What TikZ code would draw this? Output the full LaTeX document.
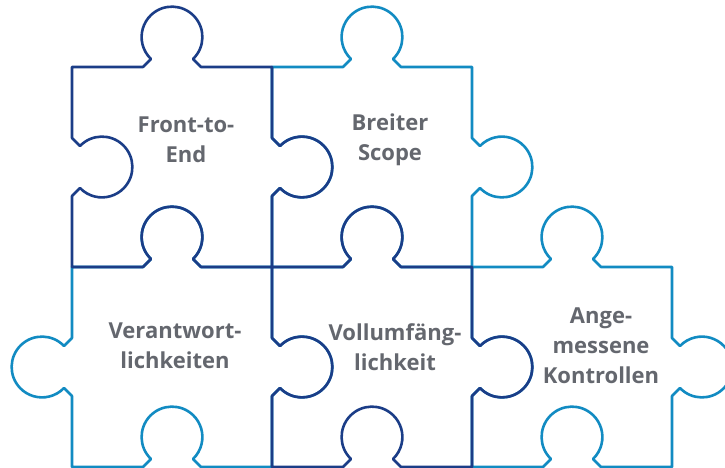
\documentclass[tikz,border=0pt]{standalone}
\usepackage{fontspec}
\setmainfont{Open Sans}
\usetikzlibrary{positioning}
\definecolor{pzlnavy}{RGB}{27,61,135}
\definecolor{pzlblue}{RGB}{18,139,194}
\definecolor{pzlgrey}{RGB}{100,103,110}

\begin{document}
\begin{tikzpicture}[x=1pt,y=1pt,
  % one side of a piece: #1 direction of travel, #2 = 1 knob out, -1 knob in
  knob/.style 2 args={insert path={-- ++(#1:71) -- ++({#1-45*#2}:11.3)
    arc[start angle={#1+180-46.3*#2},end angle={#1+180+226.3*#2},radius=30.4]
    -- ++({#1+45*#2}:11.3) -- ++(#1:71)}},
  piece/.style={line width=2.6pt,line join=round},
  lbl/.style={font=\fontsize{22}{30}\selectfont\bfseries,text=pzlgrey,align=center}]

\useasboundingbox (0,0) rectangle (725,468);
\clip (0,0) rectangle (725,468);

% light pieces first, the dark ones go on top of the shared edges
\foreach \px/\py/\sb/\sr/\st/\sl/\pc in {272/201/-1/1/1/-1/pzlblue,
    72/1/-1/1/1/1/pzlblue, 472/1/-1/1/1/-1/pzlblue,
    72/201/-1/1/1/-1/pzlnavy, 272/1/-1/1/1/-1/pzlnavy}
  \draw[piece,draw=\pc] (\px,\py) [knob={0}{\sb}] [knob={90}{\sr}]
    [knob={180}{\st}] [knob={270}{\sl}] -- cycle;

\node[lbl] (fte)    at (186,328) {Front-to-\\End};
\node[lbl] (scope)  at (390,328) {Breiter\\Scope};
\node[lbl] (verant) at (175,122) {Verantwort-\\lichkeiten};
\node[lbl] (vollum) at (395,121) {Vollumfäng-\\lichkeit};
\node[lbl] (kontr)  at (601,122) {Ange-\\messene\\Kontrollen};
\end{tikzpicture}
\end{document}
